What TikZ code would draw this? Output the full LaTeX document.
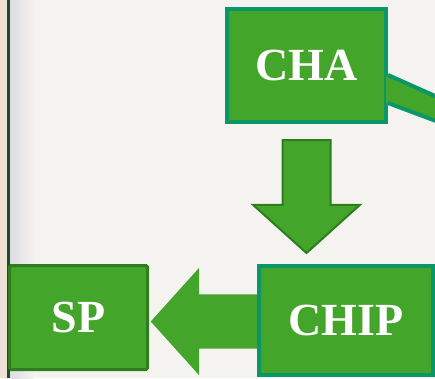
\documentclass[tikz,border=0pt]{standalone}
\usepackage{xcolor}
\usepackage{fontspec}
\setmainfont{Liberation Serif}
\usepackage{tikz}
\usetikzlibrary{shapes, arrows.meta, positioning, calc}
\definecolor{paper}{HTML}{F5F3EF}
\definecolor{leaf}{HTML}{44A52B}
\definecolor{tealline}{HTML}{0A9669}
\definecolor{darkleaf}{HTML}{2E7D1F}
\definecolor{margin}{HTML}{1E4B2C}
\definecolor{shadegray}{HTML}{DCDCE3}
\tikzset{
    label/.style={text=white, font=\bfseries\fontsize{46}{50}\selectfont},
    % Box Styles
    tealbox/.style={rectangle, draw=tealline, line width=4pt, fill=leaf, label, inner sep=0pt},
    leafbox/.style={rectangle, draw=darkleaf, line width=3pt, fill=leaf, label, inner sep=0pt, rounded corners=1.5pt},
    % Block Arrow Styles
    blockarrow/.style={single arrow, fill=leaf, minimum width=0pt, single arrow tip angle=96},
    tailline/.style={draw=tealline, line width=4pt}
}

\begin{document}
\begin{tikzpicture}[x=1pt, y=-1pt]
        \useasboundingbox (0,0) rectangle (435,378);
        \clip (0,0) rectangle (435,378);
        % paper and margin
        \fill[paper] (0,0) rectangle (435,378);
        \fill[paper!85!brown] (0,0) rectangle (7,378);
        \shade[left color=shadegray, right color=paper] (10,0) rectangle (34,378);
        \fill[margin] (6.5,0) rectangle (10,378);

        \node (cha) [tealbox, minimum width=159pt, minimum height=113pt] at (306.5,65.5) {CHA};
        \node (sp) [leafbox, minimum width=138pt, minimum height=104pt] at (78.5,317.5) {SP};
        \node (down) [blockarrow, draw=darkleaf, line width=2pt, inner sep=23pt, single arrow head extend=29.5pt,
            minimum height=113pt, shape border rotate=270, anchor=tail] at ($(cha.south)+(0,15)$) {};
        \node (left) [blockarrow, inner sep=27pt, single arrow head extend=26.5pt,
            minimum height=118pt, shape border rotate=180, anchor=tip] at ($(sp.east)+(1.5,4)$) {};
        \node (chip) [tealbox, minimum width=174pt, minimum height=109pt] at (346,320.5) {CHIP};

        % callout tail of CHA
        \fill[leaf] ($(cha.north east)+(-2,68)$) -- ++(58,26) -- ++(0,24) -- ($(cha.north east)+(-2,96)$) -- cycle;
        \draw[tailline] ($(cha.north east)+(0,68)$) -- ++(56,25);
        \draw[tailline] ($(cha.north east)+(0,96)$) -- ++(56,21);
    \end{tikzpicture}
\end{document}
